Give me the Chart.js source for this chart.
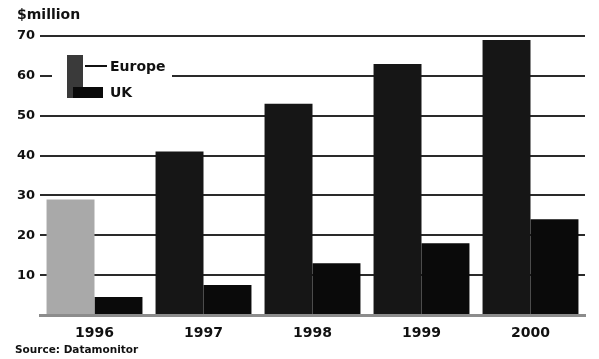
<!DOCTYPE html>
<html>
<head>
<meta charset="utf-8">
<script src="https://cdn.jsdelivr.net/npm/chart.js@4"></script>
<style>
  html, body { margin: 0; padding: 0; background: #ffffff; }
  #wrap { width: 599px; height: 359px; position: relative; }
</style>
</head>
<body>
<div id="wrap"><canvas id="c" width="599" height="359"></canvas></div>
<script>
// Sales in $ million, 1996-2000
const years = ['1996', '1997', '1998', '1999', '2000'];
const europe = [29, 41, 53, 63, 69];
const uk = [4.5, 7.5, 13, 18, 24];
const yTicks = [10, 20, 30, 40, 50, 60, 70];
const unitLabel = '$million';
const sourceNote = 'Source: Datamonitor';

const FONT = '"DejaVu Sans", sans-serif';

// Europe bars are dark, except the first year which is printed light
const europeColors = europe.map((v, i) => i === 0 ? '#a9a9a9' : '#161616');

// Legend drawn inside the plot, on a white card over the grid
const insideLegend = {
  id: 'insideLegend',
  beforeDatasetsDraw(chart) {
    const ctx = chart.ctx;
    const ds = chart.data.datasets;
    ctx.save();
    ctx.fillStyle = '#ffffff';
    ctx.fillRect(52, 54, 120, 46);
    // Europe swatch: tall block
    ctx.fillStyle = '#3a3a3a';
    ctx.fillRect(67, 55, 16, 43);
    // UK swatch: low wide block
    ctx.fillStyle = ds[1].backgroundColor;
    ctx.fillRect(73, 87, 30, 11);
    // leader line to the Europe label
    ctx.strokeStyle = '#111111';
    ctx.lineWidth = 2;
    ctx.beginPath();
    ctx.moveTo(85, 66);
    ctx.lineTo(107, 66);
    ctx.stroke();
    ctx.fillStyle = '#111111';
    ctx.font = 'bold 14px ' + FONT;
    ctx.textBaseline = 'middle';
    ctx.textAlign = 'left';
    ctx.fillText(ds[0].label, 110, 67);
    ctx.fillText(ds[1].label, 110, 93);
    ctx.restore();
  }
};

// Unit caption and source note
const captions = {
  id: 'captions',
  afterDraw(chart) {
    const ctx = chart.ctx;
    ctx.save();
    ctx.fillStyle = '#111111';
    ctx.textAlign = 'left';
    ctx.textBaseline = 'alphabetic';
    ctx.font = 'bold 14px ' + FONT;
    ctx.fillText(unitLabel, 17, 19);
    ctx.font = 'bold 10.5px ' + FONT;
    ctx.fillText(sourceNote, 15, 353);
    ctx.restore();
  }
};

new Chart(document.getElementById('c'), {
  type: 'bar',
  data: {
    labels: years,
    datasets: [
      { label: 'Europe', data: europe, backgroundColor: europeColors, borderWidth: 0 },
      { label: 'UK', data: uk, backgroundColor: '#0a0a0a', borderWidth: 0 }
    ]
  },
  options: {
    responsive: false,
    animation: false,
    devicePixelRatio: 1,
    layout: { padding: { top: 36, right: 14, bottom: 0, left: 0 } },
    datasets: { bar: { categoryPercentage: 0.88, barPercentage: 1.0 } },
    plugins: { legend: { display: false }, tooltip: { enabled: false } },
    scales: {
      x: {
        grid: { display: false },
        border: { display: true, color: '#8c8c8c', width: 3 },
        ticks: { color: '#111111', font: { family: FONT, size: 14, weight: 'bold' }, padding: 2 },
        afterFit(scale) { scale.height = 44; }
      },
      y: {
        min: 0,
        max: 70,
        afterBuildTicks(scale) { scale.ticks = [0].concat(yTicks).map(v => ({ value: v })); },
        ticks: {
          color: '#111111',
          font: { family: FONT, size: 13, weight: 'bold' },
          padding: 5,
          callback: v => (v === 0 ? '' : String(v))
        },
        grid: {
          drawTicks: false,
          lineWidth: 2,
          color: c => (c.tick && c.tick.value === 0 ? 'rgba(0,0,0,0)' : '#2a2a2a')
        },
        border: { display: false },
        afterFit(scale) { scale.width = 40; }
      }
    }
  },
  plugins: [insideLegend, captions]
});
</script>
</body>
</html>
